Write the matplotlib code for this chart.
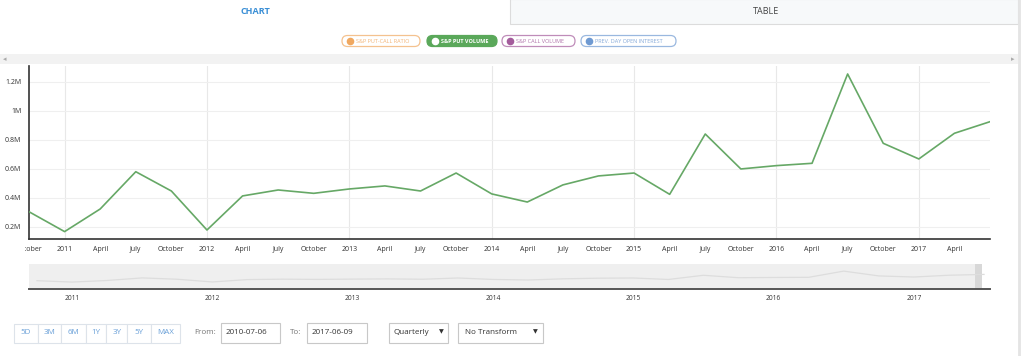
import matplotlib
matplotlib.use("Agg")
import matplotlib.pyplot as plt
from matplotlib.patches import Rectangle, FancyBboxPatch
from matplotlib.ticker import FuncFormatter, FixedLocator
from matplotlib.transforms import Bbox

# === Daten ===
quarter_labels = ["October", "2011", "April", "July", "October", "2012", "April", "July",
                  "October", "2013", "April", "July", "October", "2014", "April", "July",
                  "October", "2015", "April", "July", "October", "2016", "April", "July",
                  "October", "2017", "April", ""]
put_volume = [305000, 168000, 324000, 581000, 448000, 179000, 414000, 455000,
              432000, 462000, 483000, 448000, 572000, 428000, 372000, 490000,
              552000, 572000, 425000, 841000, 600000, 623000, 639000, 1255000,
              777000, 669000, 846000, 926000]
year_labels = ["2011", "2012", "2013", "2014", "2015", "2016", "2017"]
year_pos = [1, 5, 9, 13, 17, 21, 25]
y_ticks = [200000, 400000, 600000, 800000, 1000000, 1200000]

legend_items = ["S&P PUT-CALL RATIO", "S&P PUT VOLUME", "S&P CALL VOLUME", "PREV. DAY OPEN INTEREST"]
legend_colors = ["#f0a860", "#5aa85a", "#a45c9c", "#6f9ad2"]
range_buttons = ["5D", "3M", "6M", "1Y", "3Y", "5Y", "MAX"]

# === Chart settings ===
W, H = 1024, 356
line_color = "#66a866"
plt.rcParams["font.family"] = ["Open Sans", "DejaVu Sans"]


def px_box(x0, y0, x1, y1):
    return [x0 / W, 1 - y1 / H, (x1 - x0) / W, (y1 - y0) / H]


fig = plt.figure(figsize=(W / 100, H / 100), dpi=100)

# --- Hintergrund / UI-Elemente in Pixelkoordinaten ---
bg = fig.add_axes([0, 0, 1, 1])
bg.set_xlim(0, W)
bg.set_ylim(H, 0)
bg.axis("off")

# Tabs
bg.add_patch(Rectangle((510, -1), 508, 25, facecolor="#f7f9fa", edgecolor="#dcdcdc", lw=0.8))
bg.text(255, 12, "CHART", color="#3a8fd6", fontsize=6.5, fontweight="bold", ha="center", va="center")
bg.text(766, 12, "TABLE", color="#444444", fontsize=6.5, ha="center", va="center")

# Legende (Pillen)
pill_x = [(342, 420), (427, 497), (502, 575), (581, 676)]
for (x0, x1), label, col in zip(pill_x, legend_items, legend_colors):
    active = label == "S&P PUT VOLUME"
    bg.add_patch(FancyBboxPatch((x0, 35.5), x1 - x0, 11,
                                boxstyle="round,pad=0,rounding_size=5.5",
                                facecolor=col if active else "white",
                                edgecolor=col, lw=0.9, alpha=1 if active else 0.7))
    bg.scatter([x0 + 7.5], [41], s=20, color="white" if active else col, zorder=3)
    bg.text(x0 + 14, 41.3, label, fontsize=4.0, ha="left", va="center",
            color="white" if active else col, fontweight="bold" if active else "normal",
            alpha=1 if active else 0.85)

# grauer Balken
bg.add_patch(Rectangle((0, 54), 1018, 10, facecolor="#f2f2f2", edgecolor="none"))
bg.text(5, 59.5, "◂", fontsize=5, color="#aaaaaa", ha="center", va="center", family="DejaVu Sans")
bg.text(1013, 59.5, "▸", fontsize=5, color="#aaaaaa", ha="center", va="center", family="DejaVu Sans")
bg.plot([1019, 1019], [0, H], color="#e4e4e4", lw=2)

# Buttons unten
btn_edges = [14, 37.5, 61.4, 85.7, 106.4, 127.1, 150.7, 180.4]
for i, lab in enumerate(range_buttons):
    bg.add_patch(Rectangle((btn_edges[i], 323.5), btn_edges[i + 1] - btn_edges[i], 19,
                           facecolor="white", edgecolor="#dde3ea", lw=0.8))
    bg.text((btn_edges[i] + btn_edges[i + 1]) / 2, 333, lab, fontsize=5.8, color="#6aa0d8",
            ha="center", va="center")
bg.text(194, 333, "From:", fontsize=5.8, color="#777777", ha="left", va="center")
bg.add_patch(Rectangle((221, 323), 59, 20, facecolor="white", edgecolor="#c8c8c8", lw=0.8))
bg.text(226, 333, "2010-07-06", fontsize=5.8, color="#333333", ha="left", va="center")
bg.text(290, 333, "To:", fontsize=5.8, color="#777777", ha="left", va="center")
bg.add_patch(Rectangle((307, 323), 60, 20, facecolor="white", edgecolor="#c8c8c8", lw=0.8))
bg.text(312, 333, "2017-06-09", fontsize=5.8, color="#333333", ha="left", va="center")
bg.add_patch(Rectangle((389, 323), 59, 20, facecolor="white", edgecolor="#c8c8c8", lw=0.8))
bg.text(394, 333, "Quarterly", fontsize=5.8, color="#333333", ha="left", va="center")
bg.text(441, 332, "▼", fontsize=4.5, color="#333333", ha="center", va="center", family="DejaVu Sans")
bg.add_patch(Rectangle((458, 323), 85, 20, facecolor="white", edgecolor="#c8c8c8", lw=0.8))
bg.text(465, 333, "No Transform", fontsize=5.8, color="#333333", ha="left", va="center")
bg.text(535, 332, "▼", fontsize=4.5, color="#333333", ha="center", va="center", family="DejaVu Sans")

# --- Hauptdiagramm ---
ax = fig.add_axes(px_box(29, 66, 990, 239))
x = list(range(len(put_volume)))
ax.plot(x, put_volume, color=line_color, lw=1.2, zorder=3)
ax.set_xlim(0, len(put_volume) - 1)
ax.set_ylim(117000, 1310000)
ax.patch.set_alpha(0)

ax.yaxis.set_major_locator(FixedLocator(y_ticks))
ax.yaxis.set_major_formatter(FuncFormatter(lambda v, p: f"{v / 1e6:g}M"))
ax.set_xticks(x[:len(quarter_labels)])
ax.set_xticklabels(quarter_labels)
ax.tick_params(axis="both", length=0, labelsize=5, colors="#333333")
ax.tick_params(axis="y", pad=5.5)
ax.tick_params(axis="x", pad=5)
ax.grid(axis="y", color="#efefef", lw=0.8)
for yp in year_pos:
    ax.axvline(yp, color="#e8e8e8", lw=0.8, zorder=1)
for s in ["top", "right"]:
    ax.spines[s].set_visible(False)
ax.spines["left"].set_color("#333333")
ax.spines["bottom"].set_color("#333333")
ax.spines["left"].set_linewidth(1.2)
ax.spines["bottom"].set_linewidth(1.2)

# erstes Label ("October") links abschneiden wie im Original
first_lbl = ax.get_xticklabels()[0]
first_lbl.set_clip_on(True)
first_lbl.set_clip_box(Bbox.from_extents(25, 0, W, H))

# --- Navigator ---
nav = fig.add_axes(px_box(29, 264, 990, 289))
nav.set_xlim(-0.226, 27.17)
nav.set_ylim(-520000, 1960000)
nav.axvspan(-0.226, 26.94, color="#efefef", lw=0)
nav.axvspan(26.74, 26.94, color="#d8d8d8", lw=0)
nav.plot(x, put_volume, color="#dddddd", lw=0.9)
nav.set_yticks([])
nav.set_xticks(year_pos)
nav.set_xticklabels(year_labels)
nav.tick_params(axis="x", length=0, labelsize=4.8, colors="#333333", pad=4)
for s in ["top", "right", "left"]:
    nav.spines[s].set_visible(False)
nav.spines["bottom"].set_color("#555555")
nav.spines["bottom"].set_linewidth(1.4)

fig.savefig("out.png", dpi=100)
